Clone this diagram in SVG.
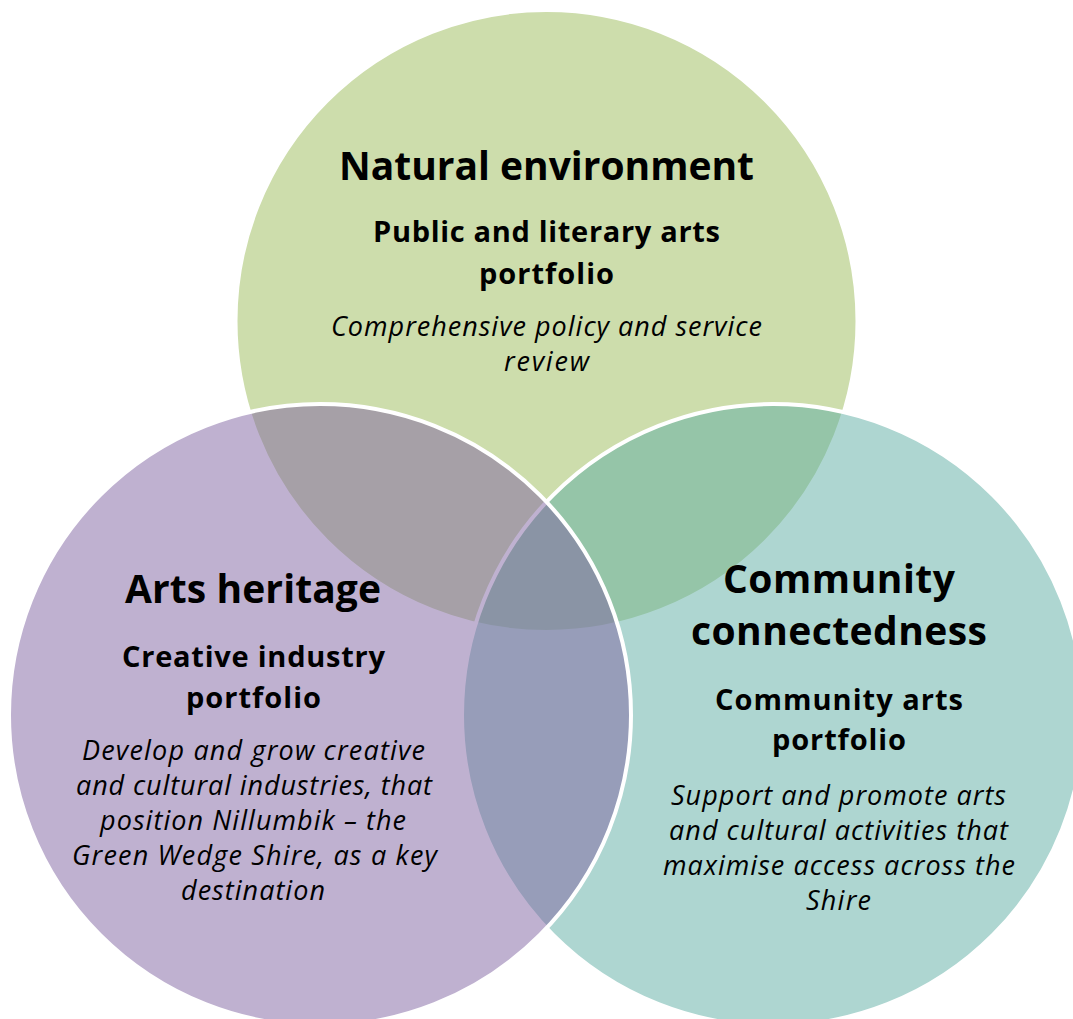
<svg xmlns="http://www.w3.org/2000/svg" width="1073" height="1019" viewBox="0 0 1073 1019">
<style>
.c{stroke:#fff;stroke-width:4;fill-opacity:0.5}
text{font-family:"Open Sans",Lato,"Liberation Sans",sans-serif;fill:#000;text-anchor:middle}
.t{font-size:39px;font-weight:bold}
.s{font-size:29px;font-weight:bold}
.i{font-size:27px;font-style:italic}
</style>
<rect width="1073" height="1019" fill="#fff"/>
<g id="natural-environment">
<circle class="c" cx="546.5" cy="321" r="311" fill="#9BBB59"/>
</g>
<g id="community-connectedness">
<circle class="c" cx="773" cy="715" r="311" fill="#5DADA4"/>
</g>
<g id="arts-heritage">
<circle class="c" cx="320" cy="715" r="311" fill="#8064A2"/>
</g>
<g id="labels-natural">
<text class="t" x="546.5" y="180" textLength="415">Natural environment</text>
<text class="s" x="546.5" y="242" textLength="347">Public and literary arts</text>
<text class="s" x="546.5" y="284" textLength="135">portfolio</text>
<text class="i" x="546.5" y="336" textLength="431">Comprehensive policy and service</text>
<text class="i" x="546.5" y="371" textLength="85">review</text>
</g>
<g id="labels-arts">
<text class="t" x="253" y="603" textLength="256">Arts heritage</text>
<text class="s" x="253.5" y="667" textLength="263">Creative industry</text>
<text class="s" x="253.5" y="708" textLength="135">portfolio</text>
<text class="i" x="253.5" y="760" textLength="343">Develop and grow creative</text>
<text class="i" x="254" y="795" textLength="356">and cultural industries, that</text>
<text class="i" x="253" y="830" textLength="306">position Nillumbik – the</text>
<text class="i" x="254.5" y="865" textLength="365">Green Wedge Shire, as a key</text>
<text class="i" x="253" y="900" textLength="144">destination</text>
</g>
<g id="labels-community">
<text class="t" x="839" y="593" textLength="232">Community</text>
<text class="t" x="839" y="645" textLength="296">connectedness</text>
<text class="s" x="839" y="710" textLength="248">Community arts</text>
<text class="s" x="839" y="750" textLength="134">portfolio</text>
<text class="i" x="838.5" y="805" textLength="335">Support and promote arts</text>
<text class="i" x="838.5" y="840" textLength="339">and cultural activities that</text>
<text class="i" x="839" y="875" textLength="352">maximise access across the</text>
<text class="i" x="838.5" y="910" textLength="65">Shire</text>
</g>
<g id="connectors"></g>
</svg>
